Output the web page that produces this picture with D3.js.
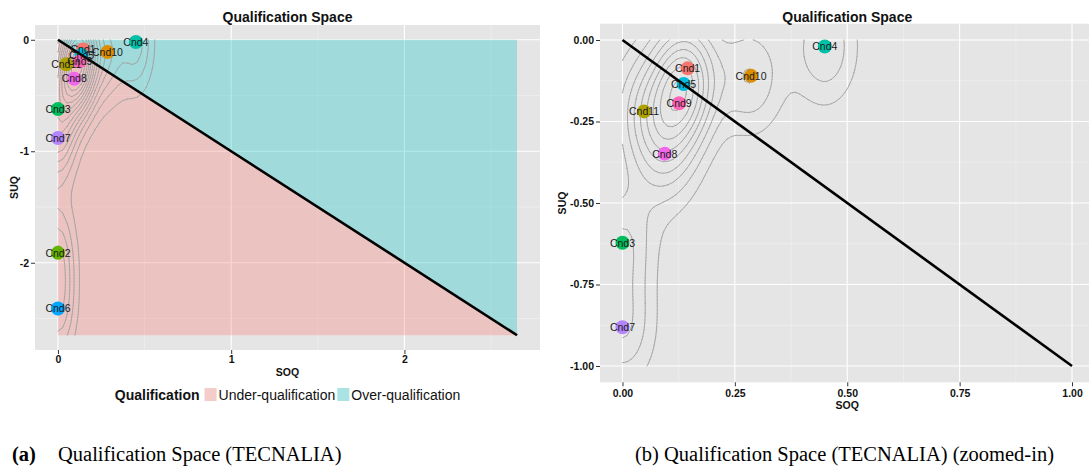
<!DOCTYPE html>
<html><head><meta charset="utf-8">
<script src="https://cdn.jsdelivr.net/npm/d3@7"></script>
<style>body{margin:0;background:#fff}svg{display:block;font-family:"Liberation Sans",Arial,sans-serif}</style>
</head><body><svg id="c" width="1089" height="467"></svg>
<script>
// ---------------- data ----------------
const candidates = ["Cnd1","Cnd2","Cnd3","Cnd4","Cnd5","Cnd6","Cnd7","Cnd8","Cnd9","Cnd10","Cnd11"];
const soq = [0.145, 0, 0, 0.45, 0.136, 0, 0, 0.094, 0.126, 0.286, 0.048];
const suq = [-0.087, -1.911, -0.622, -0.020, -0.135, -2.410, -0.881, -0.349, -0.194, -0.110, -0.219];
const huePalette = ["#F8766D","#DB8E00","#AEA200","#64B200","#00BD5C","#00C1A7","#00BADE","#00A6FF","#B385FF","#EF67EB","#FF63B6"];
const regionExtent = 2.65;     // extent of the qualification regions / diagonal (panel a)
const zoomExtent = 1;          // extent of diagonal and limits (panel b)
const regionNames = ["Under-qualification","Over-qualification"];
const regionColors = ["#F8766D","#00BFC4"];
const xTicksA = [0,1,2], xTickLabelsA = ["0","1","2"];
const yTicksA = [0,-1,-2], yTickLabelsA = ["0","-1","-2"];
const xMinorA = [0.5,1.5,2.5], yMinorA = [-0.5,-1.5,-2.5];
const xTicksB = [0,0.25,0.5,0.75,1], xTickLabelsB = ["0.00","0.25","0.50","0.75","1.00"];
const yTicksB = [0,-0.25,-0.5,-0.75,-1], yTickLabelsB = ["0.00","-0.25","-0.50","-0.75","-1.00"];
const xMinorB = [0.125,0.375,0.625,0.875], yMinorB = [-0.125,-0.375,-0.625,-0.875];
const titleText = "Qualification Space";
const legendTitle = "Qualification";

// ---------------- helpers ----------------
const svg = d3.select("#c");
const color = d3.scaleOrdinal().domain(candidates.slice().sort()).range(huePalette);
const points = candidates.map((c,i)=>({name:c, x:soq[i], y:suq[i]}));

function bwNrd(v){
  const s = v.slice().sort((a,b)=>a-b);
  const iqr = d3.quantile(s,0.75) - d3.quantile(s,0.25);
  return 4*1.06*Math.min(Math.sqrt(d3.variance(v)), iqr/1.34)*Math.pow(v.length,-0.2);
}
function kde2d(xs, ys, xl, yl, n){
  const hx = bwNrd(xs)/4, hy = bwNrd(ys)/4;
  const gx = d3.range(n).map(i=>xl[0]+(xl[1]-xl[0])*i/(n-1));
  const gy = d3.range(n).map(j=>yl[0]+(yl[1]-yl[0])*j/(n-1));
  const dn = t=>Math.exp(-0.5*t*t)/Math.sqrt(2*Math.PI);
  const z = [];
  for(let i=0;i<n;i++){ z.push([]); for(let j=0;j<n;j++){
    let s=0; for(let k=0;k<xs.length;k++) s += dn((gx[i]-xs[k])/hx)*dn((gy[j]-ys[k])/hy);
    z[i].push(s/(xs.length*hx*hy)); } }
  return {gx, gy, z};
}
function contourSegments(d, level){
  const {gx,gy,z} = d, n = gx.length, segs=[];
  const ip = (x1,y1,v1,x2,y2,v2)=>{const t=(level-v1)/(v2-v1); return [x1+t*(x2-x1), y1+t*(y2-y1)];};
  for(let i=0;i<n-1;i++) for(let j=0;j<n-1;j++){
    const v00=z[i][j], v10=z[i+1][j], v11=z[i+1][j+1], v01=z[i][j+1];
    const x0=gx[i], x1=gx[i+1], y0=gy[j], y1=gy[j+1];
    const pts=[];
    if((v00<level)!==(v10<level)) pts.push(ip(x0,y0,v00,x1,y0,v10)); else pts.push(null);
    if((v10<level)!==(v11<level)) pts.push(ip(x1,y0,v10,x1,y1,v11)); else pts.push(null);
    if((v01<level)!==(v11<level)) pts.push(ip(x0,y1,v01,x1,y1,v11)); else pts.push(null);
    if((v00<level)!==(v01<level)) pts.push(ip(x0,y0,v00,x0,y1,v01)); else pts.push(null);
    const have = pts.filter(p=>p);
    if(have.length===2) segs.push(have);
    else if(have.length===4){
      const c=(v00+v10+v11+v01)/4;
      if((c>=level)===(v00>=level)){ segs.push([pts[0],pts[1]]); segs.push([pts[2],pts[3]]); }
      else { segs.push([pts[0],pts[3]]); segs.push([pts[1],pts[2]]); }
    }
  }
  return segs;
}

function drawPanel(cfg){
  const x = d3.scaleLinear().domain(cfg.xDomain).range([cfg.left,cfg.right]);
  const y = d3.scaleLinear().domain(cfg.yDomain).range([cfg.bottom,cfg.top]);
  const g = svg.append("g");
  svg.append("clipPath").attr("id",cfg.id).append("rect")
    .attr("x",cfg.left).attr("y",cfg.top).attr("width",cfg.right-cfg.left).attr("height",cfg.bottom-cfg.top);
  g.append("rect").attr("x",cfg.left).attr("y",cfg.top).attr("width",cfg.right-cfg.left).attr("height",cfg.bottom-cfg.top).attr("fill","#E5E5E5");
  const grid = g.append("g").attr("clip-path",`url(#${cfg.id})`);
  grid.selectAll(".mx").data(cfg.xMinor).join("line").attr("x1",d=>x(d)).attr("x2",d=>x(d)).attr("y1",cfg.top).attr("y2",cfg.bottom).attr("stroke","#F2F2F2").attr("stroke-width",0.6);
  grid.selectAll(".my").data(cfg.yMinor).join("line").attr("y1",d=>y(d)).attr("y2",d=>y(d)).attr("x1",cfg.left).attr("x2",cfg.right).attr("stroke","#F2F2F2").attr("stroke-width",0.6);
  grid.selectAll(".Mx").data(cfg.xTicks).join("line").attr("x1",d=>x(d)).attr("x2",d=>x(d)).attr("y1",cfg.top).attr("y2",cfg.bottom).attr("stroke","#fff").attr("stroke-width",1.1);
  grid.selectAll(".My").data(cfg.yTicks).join("line").attr("y1",d=>y(d)).attr("y2",d=>y(d)).attr("x1",cfg.left).attr("x2",cfg.right).attr("stroke","#fff").attr("stroke-width",1.1);

  const plot = g.append("g").attr("clip-path",`url(#${cfg.id})`);
  const E = cfg.extent;
  if(cfg.regions){
    const polys = [[[0,0],[0,-E],[E,-E]], [[0,0],[E,0],[E,-E]]];
    plot.selectAll(".reg").data(polys).join("path")
      .attr("d",p=>"M"+p.map(q=>[x(q[0]),y(q[1])].join(",")).join("L")+"Z")
      .attr("fill",(p,i)=>regionColors[i]).attr("fill-opacity",0.3);
  }
  // density contours from points inside the panel limits
  const inside = points.filter(p=>p.x>=cfg.lims[0][0]&&p.x<=cfg.lims[0][1]&&p.y>=cfg.lims[1][0]&&p.y<=cfg.lims[1][1]);
  const dens = kde2d(inside.map(p=>p.x), inside.map(p=>p.y), cfg.lims[0], cfg.lims[1], 100);
  const zmax = d3.max(dens.z.flat()), zmin = d3.min(dens.z.flat());
  const levels = d3.ticks(zmin, zmax, 10).filter(l=>l>zmin&&l<zmax);
  let dstr = "";
  levels.forEach(l=>{ contourSegments(dens,l).forEach(s=>{
    dstr += `M${x(s[0][0]).toFixed(2)},${y(s[0][1]).toFixed(2)}L${x(s[1][0]).toFixed(2)},${y(s[1][1]).toFixed(2)}`; }); });
  plot.append("path").attr("d",dstr).attr("fill","none").attr("stroke","#A3A3A3").attr("stroke-width",0.9).attr("stroke-linecap","round");
  // points
  plot.selectAll(".pt").data(inside).join("circle").attr("cx",d=>x(d.x)).attr("cy",d=>y(d.y)).attr("r",7).attr("fill",d=>color(d.name));
  // diagonal
  plot.append("line").attr("x1",x(0)).attr("y1",y(0)).attr("x2",x(E)).attr("y2",y(-E)).attr("stroke","#000").attr("stroke-width",2.6);
  // labels
  plot.selectAll(".lb").data(inside).join("text").attr("x",d=>x(d.x)).attr("y",d=>y(d.y)).attr("dy","0.36em")
    .attr("text-anchor","middle").attr("font-size",10.5).attr("fill","#1a1a1a").text(d=>d.name);
  // axes
  const ax = g.append("g").attr("transform",`translate(0,${cfg.bottom})`)
    .call(d3.axisBottom(x).tickValues(cfg.xTicks).tickSize(4).tickPadding(cfg.xPad).tickFormat((d,i)=>cfg.xLabels[i]));
  const ay = g.append("g").attr("transform",`translate(${cfg.left},0)`)
    .call(d3.axisLeft(y).tickValues(cfg.yTicks).tickSize(4).tickPadding(2).tickFormat((d,i)=>cfg.yLabels[i]));
  [ax,ay].forEach(a=>{ a.select(".domain").remove(); a.selectAll("line").attr("stroke","#333");
    a.selectAll("text").attr("font-size",10.5).attr("font-weight","bold").attr("fill","#111").attr("font-family","Liberation Sans, Arial, sans-serif"); });
  const cx = (cfg.left+cfg.right)/2;
  g.append("text").attr("x",cx).attr("y",cfg.xTitleY).attr("text-anchor","middle").attr("font-size",10.5).attr("font-weight","bold").attr("fill","#111").text("SOQ");
  g.append("text").attr("transform",`translate(${cfg.yTitleX},${(cfg.top+cfg.bottom)/2}) rotate(-90)`).attr("text-anchor","middle").attr("font-size",10.5).attr("font-weight","bold").attr("fill","#111").text("SUQ");
  g.append("text").attr("x",cx).attr("y",21.5).attr("text-anchor","middle").attr("font-size",14).attr("font-weight","bold").attr("fill","#111").text(titleText);
  return {x,y};
}

drawPanel({id:"clipA", left:35, right:540, top:25, bottom:350,
  xDomain:[-0.05*regionExtent, 1.05*regionExtent], yDomain:[-1.05*regionExtent, 0.05*regionExtent],
  extent:regionExtent, regions:true, lims:[[0,regionExtent],[-regionExtent,0]],
  xTicks:xTicksA, xLabels:xTickLabelsA, yTicks:yTicksA, yLabels:yTickLabelsA, xMinor:xMinorA, yMinor:yMinorA,
  xPad:2, xTitleY:375.5, yTitleX:18});

drawPanel({id:"clipB", left:600, right:1094.5, top:23.7, bottom:382.3,
  xDomain:[-0.05*zoomExtent, 1.05*zoomExtent], yDomain:[-1.05*zoomExtent, 0.05*zoomExtent],
  extent:zoomExtent, regions:false, lims:[[0,zoomExtent],[-zoomExtent,0]],
  xTicks:xTicksB, xLabels:xTickLabelsB, yTicks:yTicksB, yLabels:yTickLabelsB, xMinor:xMinorB, yMinor:yMinorB,
  xPad:3, xTitleY:409, yTitleX:566});

// legend (panel a), centred under the panel
const lg = svg.append("g");
let cur = 0;
const lt = lg.append("text").attr("x",0).attr("y",399.5).attr("font-size",14).attr("font-weight","bold").attr("fill","#111").text(legendTitle);
cur = lt.node().getComputedTextLength()+5;
regionNames.forEach((nm,i)=>{
  lg.append("rect").attr("x",cur).attr("y",388).attr("width",12).attr("height",13).attr("fill","#F2F2F2");
  lg.append("rect").attr("x",cur).attr("y",388).attr("width",12).attr("height",13).attr("fill",regionColors[i]).attr("fill-opacity",0.3);
  cur += 14;
  const t = lg.append("text").attr("x",cur).attr("y",399.5).attr("font-size",14).attr("fill","#111").text(nm);
  cur += t.node().getComputedTextLength()+2;
});
lg.attr("transform",`translate(${288.5-cur/2},0)`);

// captions
const cap = svg.append("g").attr("font-family","Liberation Serif, Times New Roman, serif").attr("fill","#000");
cap.append("text").attr("x",12).attr("y",461).attr("font-size",20.5).attr("font-weight","bold").text("(a)");
cap.append("text").attr("x",58).attr("y",461).attr("font-size",20.5).text("Qualification Space (TECNALIA)");
cap.append("text").attr("x",635).attr("y",461).attr("font-size",20.5).text("(b) Qualification Space (TECNALIA) (zoomed-in)");
</script></body></html>
